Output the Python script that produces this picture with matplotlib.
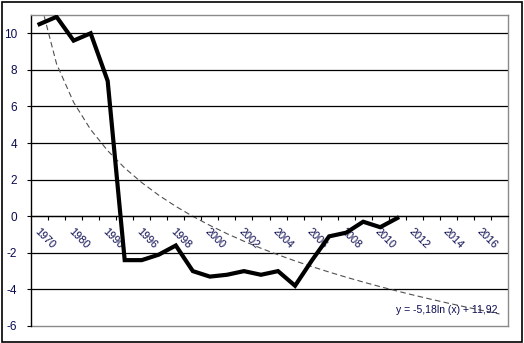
import matplotlib

matplotlib.use("Agg")

import matplotlib.pyplot as plt
import numpy as np
from matplotlib.patches import Rectangle

# ---------- data ----------
CATEGORIES = ["1970", "1975", "1980", "1985", "1990"] + [str(y) for y in range(1995, 2018)]
VALUES = [10.5, 10.9, 9.6, 10.0, 7.4, -2.4, -2.4, -2.1, -1.6, -3.0, -3.3,
          -3.2, -3.0, -3.2, -3.0, -3.8, -2.4, -1.1, -0.9, -0.3, -0.6, -0.1]
TREND_A = -5.18   # coefficients shown in the trendline label
TREND_B = 11.92
TREND_LABEL = "y = -5,18ln (x) + 11,92"
Y_TICKS = [-6, -4, -2, 0, 2, 4, 6, 8, 10]

TEXT_COLOR = "#0a0a50"
plt.rcParams["font.family"] = ["Liberation Sans", "DejaVu Sans"]


def main() -> None:
    fig = plt.figure(figsize=(5.24, 3.43), dpi=100)
    ax = fig.add_axes([31 / 524, 1 - 326 / 343, 477 / 524, 311 / 343])

    n = len(CATEGORIES)
    x_data = np.arange(len(VALUES))
    x_trend = np.arange(1, n + 1)
    y_trend = TREND_A * np.log(x_trend) + TREND_B

    # gridlines (black, Excel style)
    for y in Y_TICKS[1:]:
        ax.axhline(y, color="black", lw=0.9, zorder=1)

    ax.plot(x_trend - 1, y_trend, color="#505050", lw=0.8, dashes=(5, 3), zorder=2)
    ax.plot(x_data, VALUES, color="black", lw=3.0, solid_joinstyle="miter", zorder=3)

    ax.set_xlim(-0.5, n - 0.5)
    ax.set_ylim(-6, 11)

    # spines: black value axis on the left, category axis crossing at 0, gray frame
    ax.spines["left"].set_color("black")
    ax.spines["left"].set_linewidth(1.0)
    ax.spines["bottom"].set_position(("data", 0))
    ax.spines["bottom"].set_color("black")
    ax.spines["bottom"].set_linewidth(0.9)
    for side in ("top", "right"):
        ax.spines[side].set_color("#8a8a8a")
        ax.spines[side].set_linewidth(1.0)
    ax.plot([0, 1], [0, 0], transform=ax.transAxes, color="#8a8a8a", lw=1.0, clip_on=False)

    ax.set_yticks(Y_TICKS)
    ax.set_yticklabels([str(v) for v in Y_TICKS])
    ax.tick_params(axis="y", direction="out", length=3, width=0.8, pad=7,
                   labelsize=8.5, labelcolor=TEXT_COLOR)

    # category boundaries get the tick marks, every other centre gets a label
    ax.set_xticks(np.arange(0.5, n - 0.5, 1.0))
    ax.tick_params(axis="x", which="major", direction="out", length=3, width=0.8,
                   labelbottom=False)
    ax.set_xticks(np.arange(0, n, 2), minor=True)
    ax.set_xticklabels(CATEGORIES[::2], minor=True)
    ax.tick_params(axis="x", which="minor", length=0, pad=7, labelsize=7.8,
                   labelcolor=TEXT_COLOR)
    for lbl in ax.get_xticklabels(minor=True):
        lbl.set_rotation(-45)
        lbl.set_rotation_mode("anchor")
        lbl.set_ha("left")
        lbl.set_va("top")

    ax.text(0.977, 0.052, TREND_LABEL, transform=ax.transAxes, ha="right", va="center",
            fontsize=7.5, color=TEXT_COLOR, zorder=4)

    fig.add_artist(Rectangle((1.5 / 524, 1.5 / 343), 520 / 524, 340 / 343,
                             transform=fig.transFigure, fill=False, lw=1.2,
                             edgecolor="black"))

    fig.savefig("out.png", dpi=100)


if __name__ == "__main__":
    main()
